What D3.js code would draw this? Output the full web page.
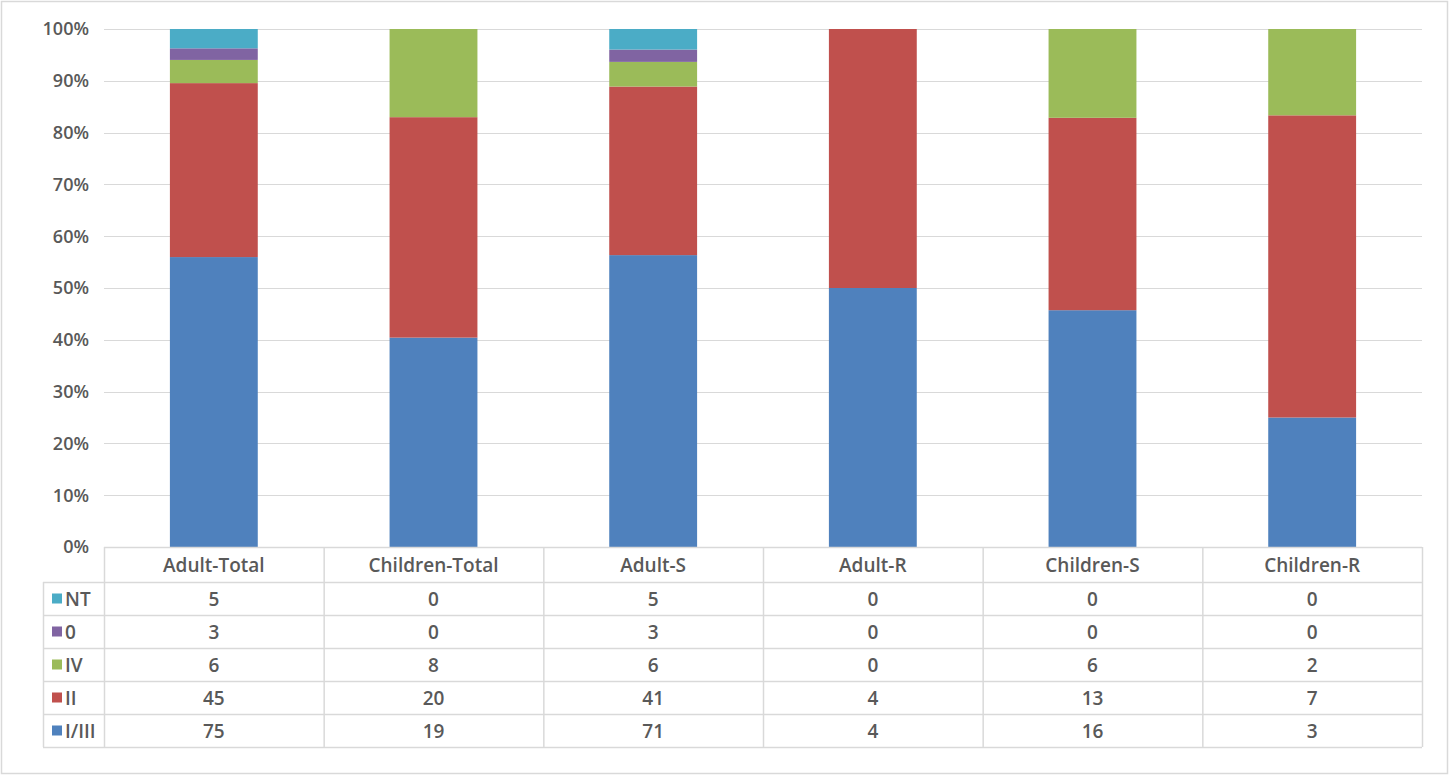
<!DOCTYPE html>
<html>
<head>
<meta charset="utf-8">
<script src="https://cdn.jsdelivr.net/npm/d3@7"></script>
<style>
  body { margin: 0; background: #fff; }
  svg { display: block; font-family: "Open Sans", Lato, sans-serif; }
</style>
</head>
<body>
<svg id="chart" width="1450" height="776"></svg>
<script>
const categories = ["Adult-Total", "Children-Total", "Adult-S", "Adult-R", "Children-S", "Children-R"];
const seriesNames = ["I/III", "II", "IV", "0", "NT"];
const seriesColors = ["#4F81BD", "#C0504D", "#9BBB59", "#8064A2", "#4BACC6"];
const valuesI_III = [75, 19, 71, 4, 16, 3];
const valuesII = [45, 20, 41, 4, 13, 7];
const valuesIV = [6, 8, 6, 0, 6, 2];
const values0 = [3, 0, 3, 0, 0, 0];
const valuesNT = [5, 0, 5, 0, 0, 0];
const yTicks = [0, 0.1, 0.2, 0.3, 0.4, 0.5, 0.6, 0.7, 0.8, 0.9, 1];

const seriesValues = [valuesI_III, valuesII, valuesIV, values0, valuesNT];
const rows = categories.map((c, i) => {
  const r = { cat: c };
  seriesNames.forEach((s, k) => (r[s] = seriesValues[k][i]));
  return r;
});

const svg = d3.select("#chart");
const textColor = "#595959";
const lineColor = "#D9D9D9";
const fontSize = 19;

// outer chart border
svg.append("rect")
  .attr("x", 1.5).attr("y", 1.5)
  .attr("width", 1446).attr("height", 772)
  .attr("fill", "none").attr("stroke", lineColor).attr("stroke-width", 1.5);

const plotLeft = 104, plotRight = 1422, plotTop = 29, plotBottom = 547;

const x = d3.scaleBand().domain(categories).range([plotLeft, plotRight]).paddingInner(0).paddingOuter(0);
const y = d3.scaleLinear().domain([0, 1]).range([plotBottom, plotTop]);

// gridlines
svg.append("g")
  .selectAll("line")
  .data(yTicks.slice(1))
  .join("line")
  .attr("x1", plotLeft).attr("x2", plotRight)
  .attr("y1", (d) => Math.round(y(d)) + 0.5)
  .attr("y2", (d) => Math.round(y(d)) + 0.5)
  .attr("stroke", lineColor).attr("stroke-width", 1);

// y axis labels
svg.append("g")
  .selectAll("text")
  .data(yTicks)
  .join("text")
  .attr("x", 89)
  .attr("y", (d) => y(d))
  .attr("dy", "0.35em")
  .attr("text-anchor", "end")
  .attr("font-size", fontSize - 1)
  .attr("font-weight", 600)
  .attr("fill", textColor)
  .text(d3.format(".0%"));

// stacked 100% bars
const stack = d3.stack().keys(seriesNames).offset(d3.stackOffsetExpand);
const layers = stack(rows);
const barW = x.bandwidth() * 0.4;

svg.append("g")
  .selectAll("g")
  .data(layers)
  .join("g")
  .attr("fill", (d, i) => seriesColors[i])
  .selectAll("rect")
  .data((d) => d)
  .join("rect")
  .attr("x", (d) => x(d.data.cat) + (x.bandwidth() - barW) / 2)
  .attr("width", barW)
  .attr("y", (d) => y(d[1]))
  .attr("height", (d) => Math.max(0, y(d[0]) - y(d[1])));

// data table
const rowH = 33;
const headerH = 35;
const tableTop = plotBottom;
const legendLeft = 43;
const displayOrder = seriesNames.slice().reverse();
const tableBottom = tableTop + headerH + rowH * displayOrder.length;

const table = svg.append("g");

// horizontal lines
const hLines = [tableTop + headerH].concat(displayOrder.map((s, i) => tableTop + headerH + rowH * (i + 1)));
table.append("line")
  .attr("x1", plotLeft).attr("x2", plotRight)
  .attr("y1", tableTop + 0.5).attr("y2", tableTop + 0.5)
  .attr("stroke", lineColor).attr("stroke-width", 1.5);
table.selectAll("line.h")
  .data(hLines)
  .join("line")
  .attr("class", "h")
  .attr("x1", legendLeft).attr("x2", plotRight)
  .attr("y1", (d) => d + 0.5).attr("y2", (d) => d + 0.5)
  .attr("stroke", lineColor).attr("stroke-width", 1.5);

// vertical lines
const vLines = categories.map((c) => x(c)).concat([plotRight]);
table.selectAll("line.v")
  .data(vLines)
  .join("line")
  .attr("class", "v")
  .attr("x1", (d) => d + 0.5).attr("x2", (d) => d + 0.5)
  .attr("y1", tableTop).attr("y2", tableBottom)
  .attr("stroke", lineColor).attr("stroke-width", 1.5);
table.append("line")
  .attr("x1", legendLeft + 0.5).attr("x2", legendLeft + 0.5)
  .attr("y1", tableTop + headerH).attr("y2", tableBottom)
  .attr("stroke", lineColor).attr("stroke-width", 1.5);

// header
table.selectAll("text.head")
  .data(categories)
  .join("text")
  .attr("class", "head")
  .attr("x", (d) => x(d) + x.bandwidth() / 2)
  .attr("y", tableTop + headerH / 2 + 0.5)
  .attr("dy", "0.35em")
  .attr("text-anchor", "middle")
  .attr("font-size", fontSize)
  .attr("font-weight", 600)
  .attr("fill", textColor)
  .text((d) => d);

// legend keys and values
displayOrder.forEach((s, i) => {
  const k = seriesNames.indexOf(s);
  const cy = tableTop + headerH + rowH * i + rowH / 2;
  table.append("rect")
    .attr("x", 52).attr("y", cy - 5)
    .attr("width", 10).attr("height", 10)
    .attr("fill", seriesColors[k]);
  table.append("text")
    .attr("x", 65).attr("y", cy + 0.5)
    .attr("dy", "0.35em")
    .attr("font-size", fontSize)
    .attr("font-weight", 600)
    .attr("fill", textColor)
    .text(s);
  table.selectAll(null)
    .data(rows)
    .join("text")
    .attr("x", (d) => x(d.cat) + x.bandwidth() / 2)
    .attr("y", cy + 0.5)
    .attr("dy", "0.35em")
    .attr("text-anchor", "middle")
    .attr("font-size", fontSize)
    .attr("font-weight", 600)
    .attr("fill", textColor)
    .text((d) => d[s]);
});
</script>
</body>
</html>
